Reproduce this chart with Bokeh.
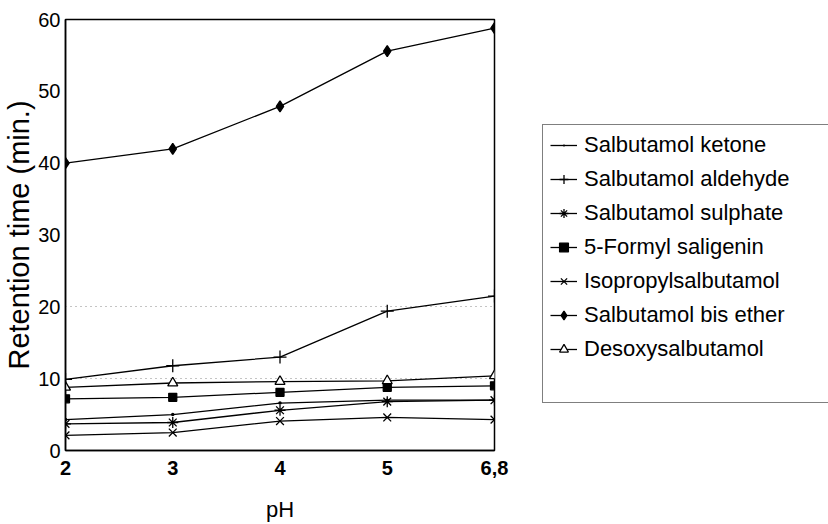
from bokeh.plotting import figure
from bokeh.models import Range1d, FixedTicker, Legend, LegendItem
from bokeh.embed import file_html
from bokeh.resources import INLINE

ph_labels = ["2", "3", "4", "5", "6,8"]
ph_index = [0, 1, 2, 3, 4]

ketone = [4.3, 5.0, 6.6, 7.0, 7.0]
aldehyde = [9.9, 11.8, 13.0, 19.4, 21.5]
sulphate = [3.7, 3.9, 5.6, 6.8, 7.0]
formyl = [7.2, 7.4, 8.1, 8.8, 9.0]
isopropyl = [2.1, 2.5, 4.1, 4.6, 4.3]
bis_ether = [40.0, 42.0, 47.9, 55.6, 58.8]
desoxy = [8.8, 9.4, 9.6, 9.7, 10.4]

series = [
    ("Salbutamol ketone", ketone, "dot", 14, "black"),
    ("Salbutamol aldehyde", aldehyde, "cross", 13, "black"),
    ("Salbutamol sulphate", sulphate, "asterisk", 11, "black"),
    ("5-Formyl saligenin", formyl, "square", 8, "black"),
    ("Isopropylsalbutamol", isopropyl, "x", 11, "black"),
    ("Salbutamol bis ether", bis_ether, "diamond", 11, "black"),
    ("Desoxysalbutamol", desoxy, "triangle", 10, "white"),
]

FONT = "Liberation Sans"

p = figure(frame_width=429, frame_height=431, min_border_left=64, min_border_right=335,
           min_border_top=19, min_border_bottom=74,
           x_range=Range1d(0, 4), y_range=Range1d(0, 60),
           output_backend="svg", toolbar_location=None)

p.background_fill_color = "white"
p.border_fill_color = "white"
p.outline_line_color = "black"
p.outline_line_width = 1.5

p.xgrid.visible = False
p.ygrid[0].ticker = FixedTicker(ticks=[10, 20])
p.ygrid.grid_line_color = "#888888"
p.ygrid.grid_line_dash = "1 4"
p.ygrid.grid_line_width = 1

p.xaxis.ticker = FixedTicker(ticks=ph_index)
p.xaxis.major_label_overrides = {i: lab for i, lab in zip(ph_index, ph_labels)}
p.yaxis.ticker = FixedTicker(ticks=[0, 10, 20, 30, 40, 50, 60])

for ax in (p.xaxis[0], p.yaxis[0]):
    ax.major_tick_line_color = None
    ax.minor_tick_line_color = None
    ax.major_tick_out = 0
    ax.major_tick_in = 0
    ax.axis_line_color = "black"
    ax.axis_line_width = 1.5
    ax.major_label_text_font = FONT
    ax.major_label_text_font_size = "20px"
    ax.major_label_text_color = "black"
    ax.axis_label_text_font = FONT
    ax.axis_label_text_font_style = "normal"
    ax.axis_label_text_color = "black"

p.xaxis.major_label_text_font_style = "bold"
p.xaxis.major_label_standoff = 10
p.yaxis.major_label_standoff = 5
p.xaxis.axis_label = "pH"
p.xaxis.axis_label_text_font_size = "22px"
p.xaxis.axis_label_standoff = 19
p.yaxis.axis_label = "Retention time (min.)"
p.yaxis.axis_label_text_font_size = "29px"
p.yaxis.axis_label_standoff = 0

items = []
for name, vals, marker, size, fill in series:
    r1 = p.line(ph_index, vals, line_color="black", line_width=1.3)
    r2 = p.scatter(ph_index, vals, marker=marker, size=size, line_color="black",
                   fill_color=fill, line_width=1.3)
    items.append(LegendItem(label=name, renderers=[r1, r2]))

legend = Legend(items=items, location=(48, 47))
legend.label_text_font = FONT
legend.label_text_font_size = "22px"
legend.label_text_color = "black"
legend.border_line_color = "black"
legend.border_line_width = 1.5
legend.background_fill_color = "white"
legend.background_fill_alpha = 1
legend.padding = 7
legend.glyph_width = 27
legend.glyph_height = 22
legend.label_height = 22
legend.label_width = 240
legend.label_standoff = 7
legend.spacing = 8
legend.margin = 0
legend.title = " "
legend.title_location = "below"
legend.title_text_font_size = "10px"
legend.title_standoff = 22
p.add_layout(legend, "right")

open("out.html", "w").write(file_html(p, INLINE))
